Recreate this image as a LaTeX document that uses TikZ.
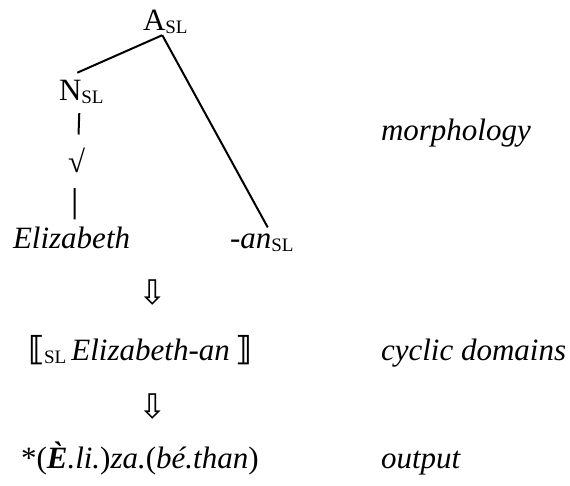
\documentclass[tikz,border=0pt]{standalone}
\usepackage{fontspec}
\setmainfont{Liberation Serif}
\newfontfamily\arrowfont{DejaVu Sans}
\newcommand{\slsub}{\raisebox{-3pt}{\fontsize{19}{19}\selectfont SL}}
\newcommand{\dbrack}[1]{{\arrowfont\bfseries\fontsize{33}{37}\selectfont #1}}
\begin{document}
\begin{tikzpicture}[x=1pt,y=-1pt,line width=2pt,
  lbl/.style={anchor=base west,inner sep=0pt,font=\fontsize{31}{37}\selectfont},
  darr/.style={inner sep=0pt,font=\arrowfont\fontsize{34}{34}\selectfont}]
\useasboundingbox (0,0) rectangle (570,485);
\node[lbl] (root) at (142,30) {A\slsub};
\node[lbl] (nsl) at (58,100) {N\slsub};
\node[lbl] (rt) at (67,172) {√};
\node[lbl] (eliz) at (12,248) {\textit{Elizabeth}};
\node[lbl] (an) at (229,248) {\textit{-an}\slsub};
\node[lbl] (morph) at (380,140) {\textit{morphology}};
\node[darr] (arr1) at (153,293) {⇩};
\node[lbl] (cyc) at (27,360) {\dbrack{⟦}\slsub\,\textit{Elizabeth-an}\,\dbrack{⟧}};
\node[lbl] (cyclbl) at (380,360) {\textit{cyclic domains}};
\node[darr] (arr2) at (153,407) {⇩};
\node[lbl] (out) at (20,468) {*(\textbf{\textit{È}}\textit{.li.})\textit{za.}(\textit{bé.than})};
\node[lbl] (outlbl) at (380,468) {\textit{output}};
\draw ([shift={(-3pt,-1pt)}]root.south) -- ([shift={(-4pt,6pt)}]nsl.north);
\draw ([shift={(-3pt,-1pt)}]root.south) -- ([shift={(6pt,5pt)}]an.north);
\draw ([shift={(-2pt,-9pt)}]nsl.south) -- ([shift={(2pt,12pt)}]rt.north);
\draw ([shift={(-2pt,-15pt)}]rt.south) -- ([shift={(3pt,6pt)}]eliz.north);
\end{tikzpicture}
\end{document}
